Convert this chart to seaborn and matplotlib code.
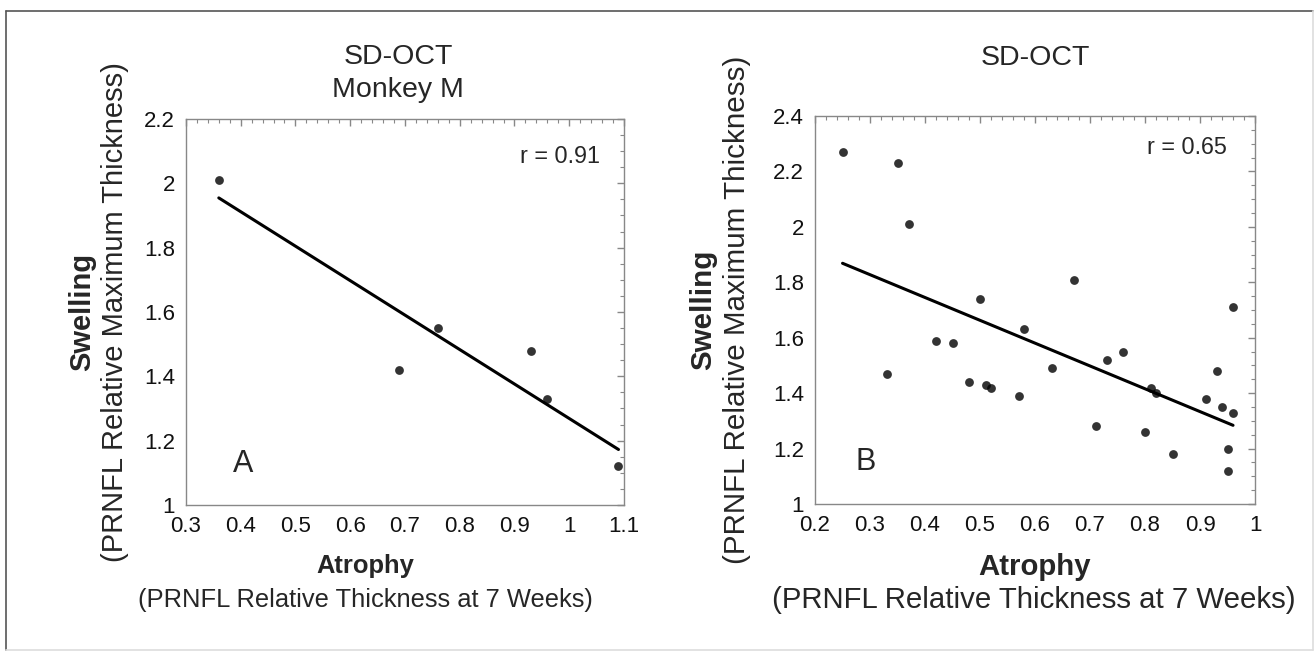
import pandas as pd
import seaborn as sns
import matplotlib.pyplot as plt
from matplotlib.lines import Line2D
from matplotlib.ticker import MultipleLocator

# panel A: SD-OCT, Monkey M
atrophyA = [0.36, 0.69, 0.76, 0.93, 0.96, 1.09]
swellingA = [2.01, 1.42, 1.55, 1.48, 1.33, 1.12]

# panel B: SD-OCT, all eyes
atrophyB = [0.25, 0.35, 0.37, 0.33, 0.42, 0.45, 0.48, 0.50, 0.51, 0.52,
            0.57, 0.58, 0.63, 0.67, 0.71, 0.73, 0.76, 0.80, 0.81, 0.82,
            0.85, 0.91, 0.93, 0.94, 0.96, 0.96, 0.95, 0.95]
swellingB = [2.27, 2.23, 2.01, 1.47, 1.59, 1.58, 1.44, 1.74, 1.43, 1.42,
             1.39, 1.63, 1.49, 1.81, 1.28, 1.52, 1.55, 1.26, 1.42, 1.40,
             1.18, 1.38, 1.48, 1.35, 1.33, 1.71, 1.20, 1.12]

rA = "r = 0.91"
rB = "r = 0.65"

sns.set_theme(style="white")
plt.rcParams['font.family'] = ['Liberation Sans', 'DejaVu Sans']

fig = plt.figure(figsize=(13.15, 6.52), dpi=100)
axA = fig.add_axes([0.1414, 0.2255, 0.3331, 0.592])
axB = fig.add_axes([0.6198, 0.227, 0.3346, 0.595])

dfA = pd.DataFrame({"atrophy": atrophyA, "swelling": swellingA})
dfB = pd.DataFrame({"atrophy": atrophyB, "swelling": swellingB})

for ax, df, xlim, ylim in [(axA, dfA, (0.3, 1.1), (1, 2.2)),
                           (axB, dfB, (0.2, 1.0), (1, 2.4))]:
    sns.regplot(data=df, x="atrophy", y="swelling", ax=ax, ci=None, truncate=True,
                scatter_kws={"s": 40, "color": "black", "linewidths": 0},
                line_kws={"color": "black", "lw": 2.2})
    ax.set_xlim(xlim)
    ax.set_ylim(ylim)
    ax.xaxis.set_major_locator(MultipleLocator(0.1))
    ax.xaxis.set_minor_locator(MultipleLocator(0.02))
    ax.yaxis.set_major_locator(MultipleLocator(0.2))
    ax.yaxis.set_minor_locator(MultipleLocator(0.05))
    ax.xaxis.set_major_formatter(lambda v, p: f"{v:.1f}".rstrip("0").rstrip("."))
    ax.yaxis.set_major_formatter(lambda v, p: f"{v:.1f}".rstrip("0").rstrip("."))
    ax.tick_params(which="both", direction="in", top=True, right=True, color="#888888",
                   labelsize=16, labelcolor="#111111", pad=8)
    ax.tick_params(which="major", length=5, width=1)
    ax.tick_params(which="minor", length=3, width=0.8)
    for s in ax.spines.values():
        s.set_color("#888888")
        s.set_linewidth(1)
    ax.set_xlabel("")
    ax.set_ylabel("")

# titles
axA.text(0.485, 1.16, "SD-OCT", transform=axA.transAxes, ha="center", va="center", fontsize=20.5)
axA.text(0.485, 1.075, "Monkey M", transform=axA.transAxes, ha="center", va="center", fontsize=20.5)
axB.text(0.5, 1.149, "SD-OCT", transform=axB.transAxes, ha="center", va="center", fontsize=20.5)

# in-panel labels
axA.text(0.945, 0.904, rA, transform=axA.transAxes, ha="right", va="center", fontsize=16.8)
axB.text(0.936, 0.918, rB, transform=axB.transAxes, ha="right", va="center", fontsize=16.8)
axA.text(0.107, 0.106, "A", transform=axA.transAxes, ha="left", va="center", fontsize=22)
axB.text(0.093, 0.108, "B", transform=axB.transAxes, ha="left", va="center", fontsize=22)

# axis labels
axA.text(0.409, -0.158, "Atrophy", transform=axA.transAxes, ha="center", va="center",
         fontsize=18.4, fontweight="bold")
axA.text(0.409, -0.246, "(PRNFL Relative Thickness at 7 Weeks)", transform=axA.transAxes,
         ha="center", va="center", fontsize=18.4)
axB.text(0.498, -0.162, "Atrophy", transform=axB.transAxes, ha="center", va="center",
         fontsize=21.2, fontweight="bold")
axB.text(0.498, -0.247, "(PRNFL Relative Thickness at 7 Weeks)", transform=axB.transAxes,
         ha="center", va="center", fontsize=21.2)

axA.text(-0.237, 0.5, "Swelling", transform=axA.transAxes, ha="center", va="center",
         rotation=90, fontsize=21, fontweight="bold")
axA.text(-0.162, 0.5, "(PRNFL Relative Maximum Thickness)", transform=axA.transAxes,
         ha="center", va="center", rotation=90, fontsize=21)
axB.text(-0.255, 0.5, "Swelling", transform=axB.transAxes, ha="center", va="center",
         rotation=90, fontsize=21.3, fontweight="bold")
axB.text(-0.177, 0.5, "(PRNFL Relative Maximum Thickness)", transform=axB.transAxes,
         ha="center", va="center", rotation=90, fontsize=21.3)

# outer frame
W, H = 1315, 652
fig.add_artist(Line2D([6 / W, 6 / W], [1 - 650 / H, 1 - 11 / H], transform=fig.transFigure,
                      color="#555555", lw=1.2))
fig.add_artist(Line2D([6 / W, 1313 / W], [1 - 11 / H, 1 - 11 / H], transform=fig.transFigure,
                      color="#555555", lw=1.2))
fig.add_artist(Line2D([1313 / W, 1313 / W], [1 - 650 / H, 1 - 11 / H], transform=fig.transFigure,
                      color="#dddddd", lw=1.2))
fig.add_artist(Line2D([6 / W, 1313 / W], [1 - 650 / H, 1 - 650 / H], transform=fig.transFigure,
                      color="#dddddd", lw=1.2))

plt.savefig("out.png", dpi=100)
